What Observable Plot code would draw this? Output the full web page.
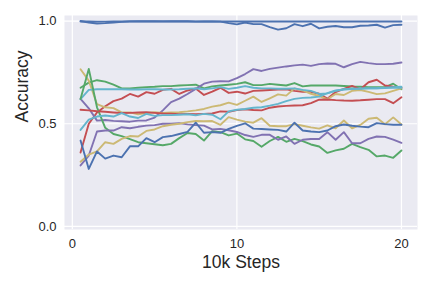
<!DOCTYPE html>
<html>
<head>
<meta charset="utf-8">
<script src="https://cdn.jsdelivr.net/npm/d3@7"></script>
<script src="https://cdn.jsdelivr.net/npm/@observablehq/plot@0.6"></script>
<style>
  html, body { margin: 0; padding: 0; background: white; }
  #chart { width: 432px; height: 288px; }
</style>
</head>
<body>
<div id="chart"></div>
<script>
// x positions (10k steps)
const steps = [0.5,1,1.5,2,2.5,3,3.5,4,4.5,5,5.5,6,6.5,7,7.5,8,8.5,9,9.5,10,
               10.5,11,11.5,12,12.5,13,13.5,14,14.5,15,15.5,16,16.5,17,17.5,18,18.5,19,19.5,20];
const xTicks = [0, 10, 20];
const yTicks = [0, 0.5, 1.0];
const xLabel = "10k Steps";
const yLabel = "Accuracy";

// series values
const blueDip = [1.0,0.993,0.988,0.99,0.993,0.996,0.997,0.998,0.998,0.998,0.997,0.998,0.998,0.998,0.997,0.998,0.998,0.997,0.99,0.984,
                 0.993,0.985,0.985,0.97,0.958,0.965,0.985,0.975,0.987,0.964,0.972,0.976,0.97,0.97,0.977,0.978,0.982,0.968,0.98,0.982];
const blueFlat = [0.998,0.998,0.997,0.997,0.998,0.998,0.999,0.999,0.999,0.999,0.999,0.999,0.999,0.999,0.998,0.998,0.998,0.998,0.998,0.998,
                  0.998,0.998,0.998,0.998,0.998,0.998,0.998,0.998,0.998,0.998,0.998,0.998,0.998,0.998,0.998,0.998,0.998,0.998,0.998,0.998];
const blueLow = [0.418,0.28,0.365,0.33,0.345,0.337,0.39,0.39,0.43,0.41,0.435,0.44,0.45,0.46,0.505,0.456,0.459,0.456,0.475,0.49,
                 0.502,0.476,0.474,0.472,0.47,0.462,0.505,0.467,0.462,0.459,0.467,0.488,0.496,0.49,0.486,0.483,0.503,0.498,0.495,0.495];
const greenTop = [0.675,0.70,0.712,0.705,0.69,0.672,0.672,0.675,0.678,0.68,0.683,0.683,0.686,0.688,0.69,0.672,0.682,0.686,0.69,0.694,
                  0.702,0.688,0.688,0.694,0.69,0.686,0.698,0.682,0.686,0.686,0.686,0.686,0.684,0.681,0.68,0.678,0.678,0.678,0.695,0.668];
const greenSpike = [0.62,0.767,0.58,0.48,0.45,0.44,0.425,0.41,0.405,0.40,0.395,0.402,0.43,0.455,0.45,0.418,0.464,0.459,0.443,0.452,
                    0.424,0.416,0.388,0.416,0.436,0.412,0.426,0.415,0.399,0.389,0.358,0.37,0.378,0.402,0.386,0.373,0.341,0.345,0.334,0.37];
const redRise = [0.36,0.50,0.555,0.585,0.61,0.622,0.645,0.632,0.654,0.646,0.665,0.67,0.645,0.662,0.672,0.64,0.656,0.675,0.65,0.656,
                 0.647,0.66,0.662,0.664,0.666,0.668,0.66,0.656,0.655,0.646,0.622,0.654,0.67,0.684,0.668,0.702,0.714,0.686,0.68,0.676];
const redFlat = [0.568,0.565,0.561,0.558,0.555,0.552,0.553,0.555,0.556,0.553,0.55,0.549,0.547,0.548,0.546,0.548,0.55,0.56,0.558,0.566,
                 0.57,0.567,0.565,0.578,0.584,0.587,0.589,0.59,0.60,0.617,0.618,0.615,0.613,0.612,0.614,0.617,0.62,0.62,0.60,0.629];
const purpleRise = [0.621,0.575,0.515,0.518,0.514,0.512,0.51,0.515,0.516,0.53,0.565,0.605,0.622,0.645,0.67,0.695,0.705,0.707,0.706,0.722,
                    0.742,0.766,0.757,0.767,0.773,0.779,0.784,0.788,0.782,0.79,0.793,0.792,0.775,0.79,0.801,0.795,0.79,0.79,0.792,0.798];
const purpleLow = [0.297,0.345,0.462,0.467,0.467,0.483,0.478,0.485,0.491,0.493,0.50,0.50,0.503,0.497,0.493,0.491,0.472,0.475,0.468,0.46,
                   0.445,0.436,0.446,0.446,0.422,0.438,0.402,0.422,0.426,0.426,0.459,0.422,0.459,0.405,0.405,0.426,0.438,0.436,0.423,0.407];
const yellowHigh = [0.765,0.71,0.595,0.58,0.576,0.555,0.555,0.546,0.552,0.556,0.553,0.555,0.556,0.56,0.565,0.572,0.583,0.59,0.603,0.592,
                    0.612,0.632,0.606,0.624,0.643,0.637,0.672,0.662,0.646,0.635,0.619,0.645,0.64,0.66,0.664,0.655,0.644,0.648,0.66,0.672];
const yellowLow = [0.315,0.35,0.365,0.41,0.402,0.426,0.44,0.438,0.465,0.472,0.488,0.495,0.50,0.508,0.513,0.512,0.513,0.495,0.532,0.52,
                   0.51,0.505,0.527,0.49,0.488,0.488,0.498,0.49,0.482,0.476,0.492,0.478,0.516,0.478,0.494,0.524,0.529,0.497,0.531,0.496];
const cyanTop = [0.62,0.665,0.668,0.668,0.668,0.668,0.667,0.667,0.668,0.668,0.667,0.667,0.668,0.67,0.672,0.668,0.672,0.678,0.67,0.675,
                 0.683,0.675,0.672,0.672,0.67,0.67,0.672,0.665,0.66,0.645,0.648,0.66,0.668,0.67,0.672,0.672,0.673,0.674,0.676,0.675];
const cyanRise = [0.47,0.52,0.535,0.54,0.535,0.552,0.535,0.528,0.548,0.538,0.542,0.542,0.544,0.546,0.541,0.548,0.544,0.522,0.56,0.568,
                  0.572,0.578,0.58,0.588,0.597,0.61,0.621,0.626,0.628,0.632,0.649,0.662,0.667,0.669,0.67,0.672,0.673,0.675,0.678,0.68];

const palette = {blue:"#4C72B0", green:"#55A868", red:"#C44E52", purple:"#8172B2", yellow:"#CCB974", cyan:"#64B5CD"};

const series = [
  {values: greenTop, color: palette.green},
  {values: redRise, color: palette.red},
  {values: purpleRise, color: palette.purple},
  {values: yellowHigh, color: palette.yellow},
  {values: cyanTop, color: palette.cyan},
  {values: blueDip, color: palette.blue},
  {values: blueFlat, color: palette.blue},
  {values: greenSpike, color: palette.green},
  {values: redFlat, color: palette.red},
  {values: purpleLow, color: palette.purple},
  {values: yellowLow, color: palette.yellow},
  {values: cyanRise, color: palette.cyan},
  {values: blueLow, color: palette.blue}
];

const chart = Plot.plot({
  width: 432,
  height: 288,
  marginTop: 15,
  marginRight: 15,
  marginBottom: 59,
  marginLeft: 64,
  style: {fontFamily: "'Liberation Sans', Arial, sans-serif", color: "#262626", background: "white", overflow: "visible"},
  x: {domain: [-0.475, 20.975]},
  y: {domain: [-0.015, 1.027]},
  marks: [
    Plot.frame({fill: "#EAEAF2", stroke: null}),
    Plot.gridX(xTicks, {stroke: "white", strokeOpacity: 1, strokeWidth: 1.2}),
    Plot.gridY(yTicks, {stroke: "white", strokeOpacity: 1, strokeWidth: 1.2}),
    ...series.map(s => Plot.line(s.values, {x: steps, y: d => d, stroke: s.color, strokeWidth: 1.9, strokeLinejoin: "round"})),
    Plot.axisX({ticks: xTicks, tickSize: 0, tickPadding: 9, fontSize: 13, label: null, tickFormat: d => String(d)}),
    Plot.axisY({ticks: yTicks, tickSize: 0, tickPadding: 8, fontSize: 13, label: null, tickFormat: d3.format(".1f")}),
    Plot.text([xLabel], {frameAnchor: "bottom", dy: 33, lineAnchor: "middle", fontSize: 17.5, text: d => d, fill: "#262626"}),
    Plot.text([yLabel], {frameAnchor: "left", dx: -42, rotate: -90, lineAnchor: "middle", fontSize: 17.5, text: d => d, fill: "#262626"})
  ]
});
document.getElementById("chart").appendChild(chart);
</script>
</body>
</html>
